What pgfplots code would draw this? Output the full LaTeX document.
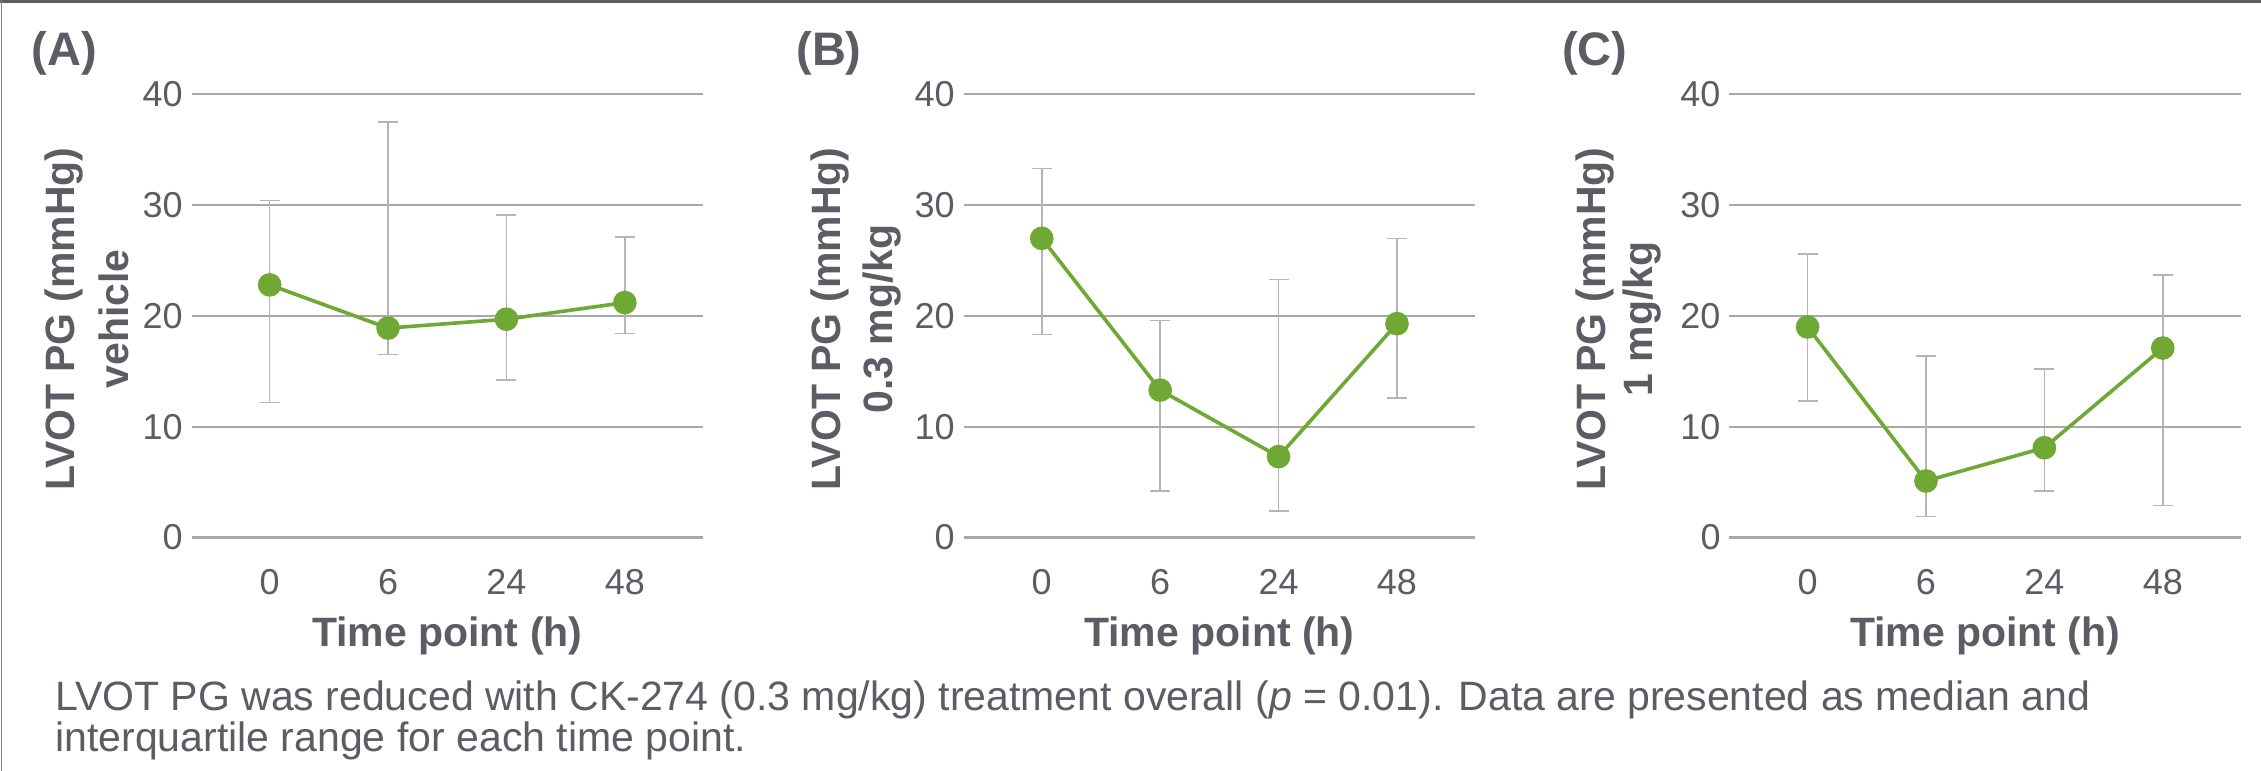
\documentclass[border=0pt]{standalone}
\usepackage{fontspec}
\setmainfont{Liberation Sans}
\usepackage{pgfplots}
\pgfplotsset{compat=1.18}
\usepackage{pgfplotstable}

\definecolor{txt}{HTML}{5B5C64}
\definecolor{grn}{HTML}{6FA832}
\definecolor{grd}{HTML}{A8A8A8}
\definecolor{errc}{HTML}{B5B5B5}
\definecolor{framec}{HTML}{5E5F66}

\pgfplotstableread{
x y lo hi
0 22.8 12.2 30.4
1 18.9 16.5 37.5
2 19.7 14.2 29.1
3 21.2 18.4 27.1
}\dataA
\pgfplotstableread{
x y lo hi
0 27.0 18.3 33.3
1 13.3 4.2 19.6
2 7.3 2.4 23.3
3 19.3 12.6 27.0
}\dataB
\pgfplotstableread{
x y lo hi
0 19.0 12.3 25.6
1 5.1 1.9 16.4
2 8.1 4.2 15.2
3 17.1 2.9 23.7
}\dataC

\pgfplotsset{
 panel/.style={
  scale only axis, width=255.75bp, height=221.6bp, anchor=south west,
  xmin=-0.66, xmax=3.66, ymin=0, ymax=40,
  xtick={0,1,2,3}, xticklabels={0,6,24,48}, ytick={0,10,20,30,40},
  ymajorgrids, grid style={grd, line width=1.1bp},
  axis line style={draw=none}, major tick length=0pt,
  tick label style={font=\fontsize{18bp}{20bp}\selectfont, color=txt},
  /pgf/number format/assume math mode=true,
  xticklabel style={anchor=north, inner sep=0pt, yshift=-15.75bp},
  yticklabel style={anchor=east, inner sep=0pt, xshift=-4.25bp},
  xlabel={Time point (h)},
  xlabel style={at={(axis description cs:0.5,0)}, anchor=base, inner sep=0pt, yshift=-54.25bp, font=\fontsize{20.5bp}{24bp}\selectfont\bfseries, color=txt},
  clip=false,
 },
 errplot/.style={only marks, mark=none, color=errc,
  error bars/.cd, y dir=both, y explicit,
  error bar style={draw=errc, line width=0.75bp},
  error mark options={rotate=90, mark size=5bp, draw=errc, line width=0.75bp}},
 lineplot/.style={grn, line width=1.8bp, mark=*, mark size=5bp, mark options={fill=grn, draw=none}},
}
\newcommand{\lblfont}{\fontsize{20.5bp}{24bp}\selectfont\bfseries}

\begin{document}
\begin{tikzpicture}
\useasboundingbox (0,0) rectangle (1130.5bp,385.5bp);
\fill[white] (0,0) rectangle (1130.5bp,385.5bp);
\draw[framec, line width=1.5bp] (0,384.75bp) -- (1130.5bp,384.75bp);
\draw[framec!80, line width=0.7bp] (0.85bp,0) -- (0.85bp,385.5bp);

% Panel A
\begin{axis}[panel, at={(95.75bp,116.75bp)}]
\addplot[errplot] table[x=x, y=y, y error plus expr=\thisrow{hi}-\thisrow{y}, y error minus expr=\thisrow{y}-\thisrow{lo}] {\dataA};
\addplot[lineplot] table[x=x,y=y] {\dataA};
\end{axis}
% Panel B
\begin{axis}[panel, at={(481.8bp,116.75bp)}]
\addplot[errplot] table[x=x, y=y, y error plus expr=\thisrow{hi}-\thisrow{y}, y error minus expr=\thisrow{y}-\thisrow{lo}] {\dataB};
\addplot[lineplot] table[x=x,y=y] {\dataB};
\end{axis}
% Panel C
\begin{axis}[panel, at={(864.7bp,116.75bp)}]
\addplot[errplot] table[x=x, y=y, y error plus expr=\thisrow{hi}-\thisrow{y}, y error minus expr=\thisrow{y}-\thisrow{lo}] {\dataC};
\addplot[lineplot] table[x=x,y=y] {\dataC};
\end{axis}

% y labels
\begin{scope}[every node/.style={rotate=90, anchor=base, inner sep=0pt, font=\lblfont, text=txt}]
\node at (37.25bp,226bp) {LVOT PG (mmHg)};
\node at (64bp,226bp) {vehicle};
\node at (420.35bp,226bp) {LVOT PG (mmHg)};
\node at (446bp,226bp) {0.3 mg/kg};
\node at (802.75bp,226bp) {LVOT PG (mmHg)};
\node at (826.4bp,226bp) {1 mg/kg};
\end{scope}

% panel letters
\begin{scope}[every node/.style={anchor=base west, inner sep=0pt, font=\fontsize{23.5bp}{26bp}\selectfont\bfseries, text=txt}]
\node at (15.75bp,352.5bp) {(A)};
\node at (398bp,352.5bp) {(B)};
\node at (780.8bp,352.5bp) {(C)};
\end{scope}

% caption
\begin{scope}[every node/.style={anchor=base west, inner sep=0pt, font=\fontsize{20.5bp}{22bp}\selectfont, text=txt}]
\node at (27.5bp,30.5bp) {LVOT PG was reduced with CK-274 (0.3 mg/kg) treatment overall (\textit{p} = 0.01). Data are presented as median and};
\node at (27.5bp,10bp) {interquartile range for each time point.};
\end{scope}
\end{tikzpicture}
\end{document}
